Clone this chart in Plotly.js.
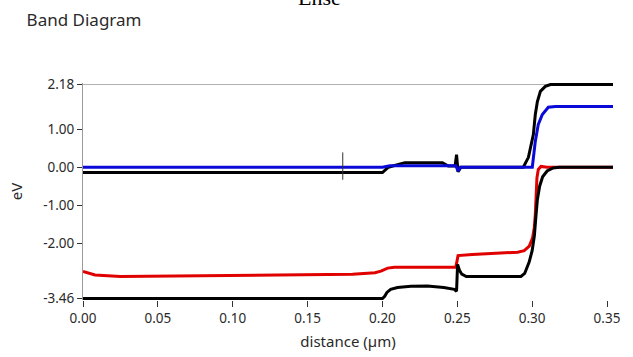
<!DOCTYPE html>
<html>
<head>
<meta charset="utf-8">
<script src="https://cdn.plot.ly/plotly-3.0.1.min.js"></script>
<style>html,body{margin:0;padding:0;background:#fff;}#chart{width:633px;height:357px;}</style>
</head>
<body>
<div id="chart"></div>
<script>
// Valence band (red)
var redX = [0, 0.004, 0.008, 0.025, 0.1, 0.18, 0.195, 0.199, 0.2035, 0.208, 0.249, 0.2505, 0.26, 0.279, 0.2903, 0.2947, 0.2981, 0.3003, 0.3014, 0.3021, 0.3025, 0.3032, 0.3041, 0.3059, 0.31, 0.354];
var redY = [-2.75, -2.79, -2.84, -2.88, -2.86, -2.82, -2.78, -2.74, -2.66, -2.64, -2.64, -2.33, -2.30, -2.26, -2.24, -2.20, -2.08, -1.86, -1.60, -1.25, -0.72, -0.28, -0.06, 0.02, 0.0, 0.0];
// Lower black curve
var evX = [0, 0.2, 0.2015, 0.203, 0.2055, 0.21, 0.219, 0.23, 0.241, 0.248, 0.2495, 0.2502, 0.2515, 0.253, 0.256, 0.2925, 0.295, 0.298, 0.300, 0.3015, 0.3025, 0.3035, 0.305, 0.307, 0.310, 0.314, 0.318, 0.354];
var evY = [-3.46, -3.46, -3.40, -3.30, -3.22, -3.17, -3.14, -3.13, -3.17, -3.22, -3.27, -2.56, -2.72, -2.82, -2.88, -2.88, -2.80, -2.50, -2.20, -1.80, -1.30, -0.85, -0.50, -0.25, -0.10, -0.02, 0.0, 0.0];
// Upper black curve
var ecX = [0, 0.2, 0.204, 0.21, 0.215, 0.24, 0.244, 0.2485, 0.2495, 0.2505, 0.2525, 0.2941, 0.2975, 0.3008, 0.3021, 0.3035, 0.3055, 0.3088, 0.3122, 0.354];
var ecY = [-0.14, -0.14, 0.0, 0.06, 0.12, 0.12, 0.03, 0.03, 0.33, -0.12, 0.0, 0.0, 0.26, 0.86, 1.39, 1.73, 2.00, 2.13, 2.18, 2.18];
// Blue curve
var blueX = [0, 0.2, 0.205, 0.249, 0.2505, 0.252, 0.3001, 0.3021, 0.3041, 0.3068, 0.3108, 0.3155, 0.354];
var blueY = [0.0, 0.0, 0.04, 0.04, -0.10, 0.0, 0.0, 0.68, 1.13, 1.39, 1.58, 1.60, 1.60];
// Cursor marker
var cursorX = [0.1735, 0.1735];
var cursorY = [0.39, -0.33];

var xTickVals = [0, 0.05, 0.10, 0.15, 0.20, 0.25, 0.30, 0.35];
var xTickText = ['0.00', '0.05', '0.10', '0.15', '0.20', '0.25', '0.30', '0.35'];
var yTickVals = [2.18, 1.0, 0.0, -1.0, -2.0, -3.46];
var yTickText = ['2.18', '1.00', '0.00', '-1.00', '-2.00', '-3.46'];

var lw = 3;
var traces = [
  {x: redX, y: redY, mode: 'lines', line: {color: '#e00000', width: lw}, hoverinfo: 'skip'},
  {x: evX, y: evY, mode: 'lines', line: {color: '#000000', width: lw}, hoverinfo: 'skip'},
  {x: ecX, y: ecY, mode: 'lines', line: {color: '#000000', width: lw}, hoverinfo: 'skip'},
  {x: blueX, y: blueY, mode: 'lines', line: {color: '#0a0ad8', width: lw}, hoverinfo: 'skip'},
  {x: cursorX, y: cursorY, mode: 'lines', line: {color: '#333333', width: 1}, hoverinfo: 'skip'}
];

var font = 'Noto Sans, Open Sans, sans-serif';
var layout = {
  width: 633, height: 357,
  margin: {l: 83, r: 20, t: 83, b: 57},
  paper_bgcolor: '#ffffff', plot_bgcolor: '#ffffff',
  showlegend: false,
  font: {family: font, size: 13, color: '#2a2a2a'},
  title: {text: 'Band Diagram', x: 0.042, xref: 'container', xanchor: 'left', y: 0.945, yref: 'container', yanchor: 'middle', font: {family: font, size: 17, color: '#2a2a2a'}},
  xaxis: {
    range: [0, 0.354], showgrid: false, zeroline: false, showline: false,
    tickmode: 'array', tickvals: xTickVals, ticktext: xTickText,
    ticks: 'outside', ticklen: 6, tickcolor: '#333333', tickwidth: 1,
    tickfont: {family: font, size: 13.5, color: '#2a2a2a'},
    title: {text: 'distance (µm)', font: {family: font, size: 15, color: '#2a2a2a'}, standoff: 10}
  },
  yaxis: {
    range: [-3.50, 2.22], showgrid: false, zeroline: false,
    showline: true, linecolor: '#9a9a9a', linewidth: 1,
    tickmode: 'array', tickvals: yTickVals, ticktext: yTickText,
    ticks: 'outside', ticklen: 5, tickcolor: '#333333', tickwidth: 1,
    tickfont: {family: font, size: 13.5, color: '#2a2a2a'},
    title: {text: 'eV', font: {family: font, size: 15, color: '#2a2a2a'}, standoff: 16}
  },
  shapes: [
    {type: 'line', xref: 'paper', yref: 'y', x0: 0, x1: 1, y0: 2.18, y1: 2.18, line: {color: '#b0b0b0', width: 1}, layer: 'below'}
  ],
  annotations: [
    {text: 'Ense', xref: 'paper', yref: 'paper', x: 0.447, y: 1.392, xanchor: 'center', yanchor: 'middle', showarrow: false, font: {family: 'Liberation Serif, serif', size: 22, color: '#000000'}}
  ]
};

Plotly.newPlot('chart', traces, layout, {displayModeBar: false, staticPlot: true});
</script>
</body>
</html>
